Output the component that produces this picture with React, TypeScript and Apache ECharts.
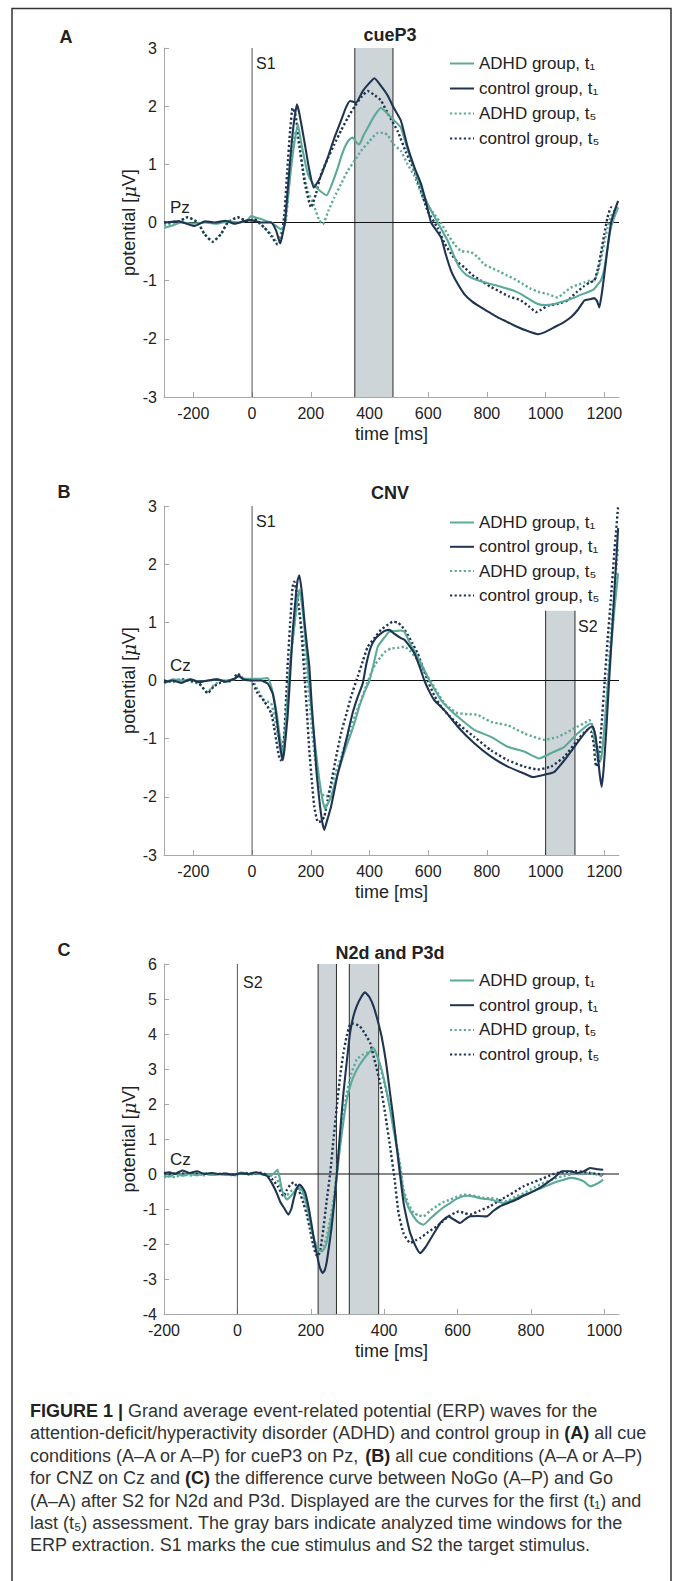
import React, { useEffect, useRef } from 'react';
import * as echarts from 'echarts';

const FONT = '"Liberation Sans", Arial, sans-serif';
const TEAL = '#5BAA97';
const NAVY = '#1F3452';

const SERIES_NAMES = ['ADHD group, t₁', 'control group, t₁', 'ADHD group, t₅', 'control group, t₅'];
const X_TICKS_AB = [-200, 0, 200, 400, 600, 800, 1000, 1200];
const X_TICKS_C = [-200, 0, 200, 400, 600, 800, 1000];

// ---------- Panel A (cueP3, Pz) ----------
const A_ADHD_T1 = [[-300,-0.09],[-270,-0.05],[-242,0],[-200,-0.02],[-160,0],[-120,-0.02],[-80,0.02],[-40,0],[-15,0.05],[-3,0.11],[15,0.08],[31,0.06],[50,0.02],[65,0],[82,-0.06],[100,-0.12],[110,-0.05],[121,0.37],[132,0.9],[145,1.4],[156,1.69],[168,1.35],[178,1.1],[190,0.83],[210,0.65],[230,0.55],[254,0.47],[275,0.7],[292,0.94],[305,1.15],[320,1.34],[333,1.43],[343,1.46],[355,1.38],[365,1.34],[380,1.5],[394,1.63],[415,1.82],[439,1.97],[460,1.88],[485,1.75],[507,1.63],[530,1.25],[553,0.92],[576,0.6],[600,0.3],[632,0],[666,-0.31],[690,-0.6],[706,-0.77],[730,-0.9],[757,-0.97],[785,-1.02],[814,-1.06],[845,-1.1],[871,-1.14],[895,-1.18],[916,-1.23],[945,-1.32],[973,-1.4],[1000,-1.42],[1030,-1.4],[1060,-1.36],[1098,-1.29],[1120,-1.24],[1143,-1.2],[1166,-1.14],[1180,-1.05],[1188,-1.0],[1200,-0.8],[1211,-0.43],[1222,-0.1],[1234,0.09],[1247,0.26]];
const A_CTRL_T1 = [[-300,0],[-250,0.02],[-196,-0.06],[-160,0.02],[-128,0],[-90,0.03],[-60,-0.02],[-30,0.02],[-3,0.04],[30,0],[65,0],[82,-0.14],[96,-0.36],[104,-0.2],[112,0],[122,0.6],[132,1.2],[142,1.7],[153,2.03],[162,1.85],[178,1.4],[195,0.9],[210,0.6],[230,0.75],[258,1.12],[280,1.45],[303,1.75],[320,1.98],[334,2.09],[354,2.06],[377,2.26],[400,2.4],[417,2.48],[439,2.35],[460,2.2],[485,1.95],[507,1.75],[530,1.3],[553,0.95],[576,0.66],[595,0.3],[610,0],[644,-0.26],[660,-0.55],[678,-0.83],[700,-1.05],[723,-1.23],[750,-1.36],[780,-1.46],[810,-1.55],[837,-1.63],[865,-1.7],[893,-1.77],[930,-1.85],[973,-1.92],[1000,-1.88],[1030,-1.8],[1060,-1.72],[1086,-1.63],[1110,-1.5],[1132,-1.34],[1150,-1.32],[1166,-1.3],[1175,-1.35],[1183,-1.46],[1192,-1.2],[1200,-0.89],[1212,-0.4],[1223,0],[1235,0.2],[1247,0.37]];
const A_ADHD_T5 = [[-300,-0.05],[-250,0.02],[-219,0.09],[-185,0],[-162,-0.2],[-134,-0.33],[-106,-0.2],[-83,0],[-49,0.09],[-15,0.03],[8,0.04],[42,-0.09],[65,-0.2],[80,-0.3],[92,-0.25],[105,-0.1],[116,0.05],[125,0.6],[135,1.1],[144,1.45],[150,1.57],[160,1.3],[172,0.95],[190,0.54],[210,0.3],[228,0.05],[241,-0.03],[260,0.2],[280,0.43],[303,0.66],[326,0.89],[350,1.07],[371,1.23],[400,1.4],[428,1.54],[450,1.54],[462,1.5],[485,1.33],[507,1.23],[530,1.0],[553,0.8],[587,0.37],[621,0.14],[645,-0.02],[666,-0.2],[690,-0.38],[712,-0.49],[746,-0.51],[770,-0.6],[791,-0.72],[815,-0.78],[837,-0.83],[865,-0.9],[893,-0.97],[920,-1.05],[950,-1.14],[980,-1.2],[1007,-1.23],[1041,-1.29],[1065,-1.2],[1086,-1.12],[1110,-1.07],[1132,-1.03],[1150,-1.0],[1166,-1.0],[1178,-0.85],[1188,-0.66],[1200,-0.35],[1211,-0.09],[1222,0.1],[1234,0.2],[1247,0.26]];
const A_CTRL_T5 = [[-300,0],[-250,0.02],[-219,0.09],[-185,0],[-162,-0.2],[-134,-0.33],[-106,-0.2],[-83,0],[-49,0.09],[-15,0.02],[8,0.06],[42,-0.09],[65,-0.23],[87,-0.38],[99,-0.3],[110,0.14],[120,0.9],[130,1.6],[138,1.97],[148,1.85],[160,1.4],[178,0.72],[201,0.26],[218,0.5],[235,0.83],[258,1.1],[280,1.34],[303,1.58],[326,1.8],[350,2.0],[371,2.15],[394,2.26],[415,2.2],[439,2.1],[465,1.85],[496,1.57],[525,1.2],[553,0.89],[575,0.55],[598,0.2],[632,-0.09],[655,-0.35],[678,-0.54],[700,-0.68],[723,-0.77],[750,-0.9],[780,-1.0],[810,-1.1],[837,-1.17],[875,-1.27],[916,-1.34],[945,-1.45],[967,-1.54],[985,-1.5],[1007,-1.43],[1040,-1.4],[1075,-1.34],[1105,-1.2],[1132,-1.09],[1150,-1.03],[1166,-1.0],[1178,-0.8],[1188,-0.54],[1200,-0.2],[1211,0.09],[1223,0.26],[1235,0.22],[1247,0.2]];

// ---------- Panel B (CNV, Cz) ----------
const B_ADHD_T1 = [[-300,-0.05],[-270,0.02],[-240,0],[-210,0.02],[-180,-0.02],[-150,0],[-120,0.02],[-90,0],[-60,0.03],[-45,0.08],[-30,0.03],[-3,0.03],[20,0.03],[53,0.04],[65,-0.1],[76,-0.34],[85,-0.6],[93,-0.91],[104,-1.25],[112,-1.0],[121,-0.34],[132,0.4],[144,0.93],[152,1.3],[161,1.56],[170,1.3],[178,0.93],[187,0.4],[195,-0.1],[206,-0.7],[218,-1.25],[229,-1.7],[240,-2.05],[248,-2.2],[258,-2.12],[269,-2.0],[285,-1.72],[303,-1.42],[320,-1.15],[337,-0.91],[352,-0.68],[365,-0.45],[383,-0.2],[400,0],[415,0.3],[428,0.58],[448,0.72],[468,0.84],[490,0.85],[507,0.86],[519,0.84],[540,0.62],[564,0.41],[585,0.2],[604,0],[625,-0.18],[644,-0.34],[670,-0.48],[700,-0.62],[757,-0.85],[814,-0.97],[871,-1.14],[927,-1.22],[978,-1.34],[1018,-1.25],[1064,-1.14],[1109,-0.91],[1154,-0.74],[1164,-0.85],[1172,-1.08],[1180,-1.25],[1189,-1.37],[1197,-1.0],[1206,-0.45],[1214,0.05],[1222,0.52],[1234,1.2],[1247,1.84]];
const B_CTRL_T1 = [[-300,-0.03],[-270,0],[-240,-0.04],[-210,0.02],[-180,-0.03],[-150,0],[-120,0.02],[-90,-0.02],[-60,0.03],[-45,0.08],[-30,0.02],[-3,0],[30,0],[53,-0.05],[70,-0.22],[80,-0.5],[87,-0.79],[96,-1.15],[104,-1.37],[110,-1.2],[121,-0.62],[130,0.1],[138,0.81],[148,1.4],[155,1.72],[161,1.81],[170,1.5],[178,1.04],[187,0.6],[195,0.24],[203,-0.4],[212,-1.02],[220,-1.6],[229,-2.05],[238,-2.4],[246,-2.57],[256,-2.4],[269,-2.17],[280,-1.9],[292,-1.6],[310,-1.25],[326,-0.91],[343,-0.55],[360,-0.28],[377,-0.05],[390,0.3],[405,0.58],[420,0.72],[439,0.81],[455,0.86],[468,0.87],[485,0.8],[507,0.73],[519,0.7],[535,0.6],[553,0.47],[570,0.25],[587,0],[605,-0.2],[621,-0.34],[655,-0.51],[700,-0.79],[757,-1.08],[814,-1.31],[871,-1.48],[927,-1.6],[956,-1.66],[996,-1.62],[1030,-1.57],[1064,-1.37],[1098,-1.14],[1132,-0.91],[1148,-0.82],[1160,-0.79],[1170,-0.95],[1177,-1.25],[1184,-1.6],[1191,-1.83],[1198,-1.5],[1206,-0.91],[1214,-0.2],[1222,0.47],[1234,1.5],[1247,2.62]];
const B_ADHD_T5 = [[-300,-0.05],[-270,0],[-240,0.02],[-210,-0.02],[-180,-0.06],[-151,-0.2],[-130,-0.08],[-100,0],[-70,-0.02],[-49,0.1],[-30,0.02],[-3,0.02],[8,-0.05],[19,-0.16],[42,-0.34],[65,-0.39],[75,-0.6],[87,-0.91],[101,-1.25],[108,-1.1],[116,-0.62],[127,0.1],[138,0.7],[147,1.1],[155,1.33],[163,1.1],[172,0.81],[183,0.3],[195,-0.34],[206,-0.95],[218,-1.48],[235,-1.94],[252,-2.0],[269,-1.83],[285,-1.58],[303,-1.31],[320,-1.05],[337,-0.79],[355,-0.55],[371,-0.34],[388,-0.1],[405,0.12],[420,0.28],[439,0.41],[455,0.5],[473,0.55],[495,0.56],[519,0.58],[540,0.5],[564,0.35],[587,0.15],[610,-0.02],[630,-0.2],[655,-0.39],[680,-0.5],[700,-0.56],[735,-0.58],[768,-0.59],[790,-0.65],[814,-0.71],[840,-0.74],[871,-0.77],[900,-0.84],[927,-0.91],[960,-0.97],[996,-1.02],[1041,-0.97],[1070,-0.9],[1098,-0.82],[1130,-0.74],[1149,-0.68],[1158,-0.75],[1166,-1.02],[1175,-1.3],[1183,-1.42],[1191,-1.2],[1200,-0.91],[1211,-0.1],[1222,0.81],[1234,1.5],[1247,2.3]];
const B_CTRL_T5 = [[-300,0],[-270,-0.02],[-240,0.02],[-210,0],[-180,-0.05],[-151,-0.22],[-130,-0.1],[-100,-0.02],[-70,0],[-49,0.12],[-30,0.03],[-3,0],[19,-0.22],[42,-0.36],[65,-0.56],[75,-0.8],[82,-1.02],[93,-1.34],[98,-1.37],[104,-1.2],[110,-0.91],[116,-0.3],[121,0.24],[130,1.0],[138,1.61],[144,1.7],[152,1.5],[161,1.21],[170,0.7],[178,0.12],[187,-0.55],[195,-1.2],[204,-1.75],[212,-2.17],[224,-2.43],[235,-2.42],[246,-2.34],[258,-2.05],[269,-1.77],[285,-1.35],[303,-0.91],[320,-0.6],[337,-0.28],[360,0.07],[377,0.33],[394,0.58],[415,0.72],[439,0.87],[460,0.95],[479,1.01],[495,1.0],[507,0.95],[524,0.84],[545,0.65],[564,0.47],[580,0.25],[598,0],[620,-0.25],[644,-0.45],[670,-0.6],[700,-0.74],[757,-0.97],[814,-1.2],[871,-1.37],[927,-1.48],[973,-1.53],[1018,-1.48],[1064,-1.31],[1109,-1.02],[1143,-0.85],[1155,-0.88],[1164,-1.1],[1172,-1.48],[1180,-1.4],[1190,-0.8],[1200,-0.1],[1211,0.7],[1222,1.38],[1234,2.2],[1247,2.99]];

// ---------- Panel C (N2d and P3d, Cz) ----------
const C_ADHD_T1 = [[-200,-0.05],[-185,-0.08],[-170,0.02],[-150,-0.05],[-130,0],[-110,-0.04],[-90,0.02],[-70,-0.03],[-50,0],[-30,-0.03],[-10,-0.02],[10,0.04],[30,0],[50,0.03],[70,-0.02],[90,-0.03],[98,0],[109,0.12],[115,-0.1],[121,-0.45],[128,-0.62],[135,-0.73],[144,-0.65],[153,-0.54],[162,-0.42],[171,-0.35],[180,-0.55],[194,-1.11],[203,-1.6],[212,-1.97],[221,-2.15],[230,-2.21],[237,-2.12],[243,-1.97],[252,-1.5],[262,-0.92],[271,-0.05],[280,0.79],[289,1.5],[298,2.12],[310,2.6],[321,2.89],[332,3.1],[343,3.27],[357,3.45],[371,3.6],[382,3.35],[393,2.98],[405,2.45],[416,1.84],[425,1.3],[434,0.79],[443,0.2],[453,-0.54],[466,-0.95],[480,-1.21],[493,-1.38],[507,-1.45],[525,-1.28],[543,-1.11],[562,-0.95],[580,-0.83],[596,-0.72],[612,-0.64],[628,-0.62],[643,-0.64],[665,-0.7],[689,-0.73],[707,-0.78],[725,-0.83],[748,-0.75],[770,-0.64],[793,-0.55],[816,-0.45],[838,-0.36],[861,-0.26],[884,-0.18],[907,-0.11],[930,-0.15],[945,-0.22],[961,-0.35],[980,-0.28],[997,-0.16]];
const C_CTRL_T1 = [[-200,0.02],[-185,0.05],[-170,0],[-150,0.1],[-130,0.03],[-110,0.08],[-90,0],[-70,0.03],[-50,0],[-30,0.01],[-10,-0.02],[10,0.02],[30,0],[50,0.05],[62,0.02],[80,-0.05],[94,-0.26],[107,-0.54],[117,-0.8],[126,-0.95],[139,-1.16],[147,-1.0],[153,-0.73],[162,-0.4],[169,-0.3],[177,-0.38],[185,-0.54],[194,-0.95],[203,-1.5],[210,-1.95],[216,-2.26],[224,-2.65],[232,-2.83],[238,-2.75],[243,-2.54],[250,-2.05],[257,-1.5],[264,-0.8],[271,0],[280,1.2],[289,2.31],[298,3.2],[307,4.03],[316,4.5],[325,4.79],[337,5.05],[348,5.19],[360,5.05],[371,4.79],[382,4.4],[393,3.93],[405,3.2],[416,2.31],[425,1.6],[434,0.79],[443,0],[453,-0.83],[462,-1.3],[471,-1.69],[485,-2.05],[498,-2.26],[512,-2.1],[525,-1.88],[540,-1.62],[553,-1.4],[565,-1.28],[575,-1.21],[590,-1.3],[607,-1.4],[620,-1.3],[634,-1.21],[655,-1.2],[680,-1.21],[698,-1.05],[716,-0.92],[740,-0.82],[761,-0.73],[780,-0.62],[798,-0.54],[820,-0.42],[843,-0.26],[864,-0.1],[884,0.08],[905,0.08],[925,0.03],[945,0.08],[961,0.17],[980,0.14],[997,0.12]];
const C_ADHD_T5 = [[-200,-0.1],[-185,-0.04],[-170,-0.1],[-150,0],[-130,-0.05],[-110,0.02],[-90,-0.04],[-70,0.02],[-50,-0.02],[-30,0],[-10,-0.05],[10,0.03],[30,-0.02],[50,0.02],[70,0],[90,-0.04],[105,-0.1],[115,-0.3],[126,-0.54],[135,-0.6],[145,-0.5],[153,-0.45],[171,-0.45],[185,-0.8],[194,-1.2],[205,-1.7],[216,-2.07],[225,-2.16],[235,-2.05],[243,-1.8],[252,-1.35],[262,-0.73],[271,0.1],[280,0.98],[289,1.7],[298,2.31],[310,2.85],[325,3.27],[340,3.4],[353,3.46],[362,3.5],[371,3.55],[380,3.4],[389,3.08],[400,2.6],[416,1.93],[425,1.45],[434,0.85],[443,0.3],[453,-0.45],[466,-0.85],[480,-1.11],[493,-1.18],[507,-1.21],[525,-1.05],[543,-0.92],[562,-0.8],[580,-0.73],[598,-0.65],[616,-0.59],[634,-0.6],[652,-0.64],[670,-0.68],[689,-0.69],[710,-0.72],[734,-0.78],[757,-0.65],[780,-0.55],[803,-0.42],[825,-0.3],[848,-0.2],[870,-0.11],[893,-0.05],[916,0],[940,0],[961,0.03],[980,-0.02],[997,-0.07]];
const C_CTRL_T5 = [[-200,0.03],[-180,0],[-160,0.04],[-140,0],[-120,0.03],[-100,-0.01],[-80,0.02],[-60,-0.01],[-40,0.01],[-20,-0.02],[0,0],[20,0.03],[40,0],[60,0.04],[80,-0.02],[95,-0.15],[110,-0.35],[126,-0.64],[135,-0.45],[145,-0.3],[153,-0.24],[165,-0.4],[180,-0.83],[190,-1.2],[198,-1.59],[206,-2.0],[214,-2.3],[220,-2.35],[227,-2.1],[234,-1.59],[243,-0.8],[253,0.03],[262,1.0],[271,1.93],[280,2.8],[289,3.46],[298,3.95],[307,4.27],[316,4.3],[334,4.22],[348,4.0],[362,3.74],[375,3.2],[389,2.6],[403,1.7],[416,0.79],[428,-0.1],[439,-1.11],[453,-1.7],[471,-1.97],[485,-1.9],[498,-1.83],[520,-1.66],[543,-1.5],[560,-1.35],[575,-1.21],[603,-1.07],[620,-1.12],[634,-1.16],[660,-1.05],[689,-0.92],[710,-0.78],[734,-0.64],[757,-0.5],[780,-0.35],[803,-0.25],[825,-0.16],[848,-0.06],[870,0.03],[900,0.06],[925,0.08],[961,0.03],[997,-0.02]];

// analysis windows [start ms, end ms, bottom, top]
const BANDS_A = [[350, 480, -3, 3]];
const BANDS_B = [[1000, 1100, -3, 1.2]];
const BANDS_C = [[220, 270, -4, 6], [305, 385, -4, 6]];

const CAPTION_LINES = [
  '{b|FIGURE 1 |} Grand average event-related potential (ERP) waves for the',
  'attention-deficit/hyperactivity disorder (ADHD) and control group in {b|(A)} all cue',
  'conditions (A–A or A–P) for cueP3 on Pz, {b|(B)} all cue conditions (A–A or A–P)',
  'for CNZ on Cz and {b|(C)} the difference curve between NoGo (A–P) and Go',
  '(A–A) after S2 for N2d and P3d. Displayed are the curves for the first (t₁) and',
  'last (t₅) assessment. The gray bars indicate analyzed time windows for the',
  'ERP extraction. S1 marks the cue stimulus and S2 the target stimulus.',
];

const PANELS = [
  { top: 48, height: 349, xMin: -300, xMax: 1250, yMin: -3, yMax: 3, ticks: X_TICKS_AB,
    data: [A_ADHD_T1, A_CTRL_T1, A_ADHD_T5, A_CTRL_T5], bands: BANDS_A, legendTop: 55, legendGap: 8 },
  { top: 506, height: 349, xMin: -300, xMax: 1250, yMin: -3, yMax: 3, ticks: X_TICKS_AB,
    data: [B_ADHD_T1, B_CTRL_T1, B_ADHD_T5, B_CTRL_T5], bands: BANDS_B, legendTop: 514, legendGap: 7.3 },
  { top: 964, height: 350, xMin: -200, xMax: 1040, yMin: -4, yMax: 6, ticks: X_TICKS_C,
    data: [C_ADHD_T1, C_CTRL_T1, C_ADHD_T5, C_CTRL_T5], bands: BANDS_C, legendTop: 972, legendGap: 7.7 },
];

const AXIS_GRAY = '#a8a8a8';

function buildOption() {
  const grid: any[] = [];
  const xAxis: any[] = [];
  const yAxis: any[] = [];
  const legend: any[] = [];
  const series: any[] = [];

  PANELS.forEach((p, i) => {
    grid.push({ left: 164, top: p.top, width: 455, height: p.height });
    xAxis.push({
      gridIndex: i, type: 'value', min: p.xMin, max: p.xMax,
      axisLine: { show: true, onZero: false, lineStyle: { color: AXIS_GRAY, width: 1 } },
      axisTick: { show: true, inside: true, length: 5, customValues: p.ticks, lineStyle: { color: AXIS_GRAY } },
      axisLabel: { customValues: p.ticks, fontSize: 16, color: '#222', margin: 8, fontFamily: FONT,
        formatter: (v: number) => String(v) },
      splitLine: { show: false },
      name: 'time [ms]', nameLocation: 'middle', nameGap: 28, nameMoveOverlap: false,
      nameTextStyle: { fontSize: 18, color: '#222', fontFamily: FONT },
    });
    yAxis.push({
      gridIndex: i, type: 'value', min: p.yMin, max: p.yMax, interval: 1,
      axisLine: { show: true, onZero: false, lineStyle: { color: AXIS_GRAY, width: 1 } },
      axisTick: { show: true, inside: true, length: 5, lineStyle: { color: AXIS_GRAY } },
      axisLabel: { fontSize: 16, color: '#222', margin: 7, fontFamily: FONT, formatter: (v: number) => String(v) },
      splitLine: { show: false },
      name: 'potential [{i|μ}V]', nameLocation: 'middle', nameGap: 26, nameRotate: 90, nameMoveOverlap: false,
      nameTextStyle: { fontSize: 18, color: '#222', fontFamily: FONT,
        rich: { i: { fontSize: 18, fontStyle: 'italic', fontFamily: '"DejaVu Serif", serif', color: '#222' } } },
    });
    legend.push({
      orient: 'vertical', left: 449, top: p.legendTop, padding: 0,
      itemWidth: 24, itemHeight: 14, itemGap: p.legendGap, itemTextGap: 6,
      selectedMode: false, data: SERIES_NAMES,
      itemStyle: { opacity: 0 },
      textStyle: { fontSize: 17, color: '#222', fontFamily: FONT, lineHeight: 14 },
    });
    // analysis windows
    series.push({
      type: 'custom', xAxisIndex: i, yAxisIndex: i, z: 1, silent: true,
      encode: { x: [0, 1], y: [2, 3] }, data: p.bands,
      renderItem: (params: any, api: any) => {
        const p0 = api.coord([api.value(0), api.value(3)]);
        const p1 = api.coord([api.value(1), api.value(2)]);
        return {
          type: 'group',
          children: [
            { type: 'rect', shape: { x: p0[0], y: p0[1], width: p1[0] - p0[0], height: p1[1] - p0[1] }, style: { fill: '#CDD5D8' } },
            { type: 'line', shape: { x1: p0[0], y1: p0[1], x2: p0[0], y2: p1[1] }, style: { stroke: '#2b2b2b', lineWidth: 1 } },
            { type: 'line', shape: { x1: p1[0], y1: p0[1], x2: p1[0], y2: p1[1] }, style: { stroke: '#2b2b2b', lineWidth: 1 } },
          ],
        };
      },
    });
    // stimulus onset line
    series.push({
      type: 'line', xAxisIndex: i, yAxisIndex: i, z: 2, silent: true, symbol: 'none',
      data: [[0, p.yMin], [0, p.yMax]], lineStyle: { color: '#555', width: 1 },
    });
    // zero line
    series.push({
      type: 'line', xAxisIndex: i, yAxisIndex: i, z: 2, silent: true, symbol: 'none',
      data: [[p.xMin, 0], [p.xMax, 0]], lineStyle: { color: '#111', width: 1 },
    });
    // curves: dotted first, solid on top
    const order = [2, 3, 0, 1];
    order.forEach((k) => {
      const isAdhd = k % 2 === 0;
      const dotted = k >= 2;
      const color = isAdhd ? TEAL : NAVY;
      series.push({
        type: 'line', name: SERIES_NAMES[k], xAxisIndex: i, yAxisIndex: i, z: 3,
        data: p.data[k], symbol: 'none', showSymbol: false, smooth: 0.15, silent: true,
        itemStyle: { color },
        lineStyle: { color, width: dotted ? 2.4 : 2.1, type: dotted ? [2.2, 2.4] : 'solid' },
      });
    });
  });

  const txt = (text: string, x: number, y: number, opts: any = {}) => ({
    type: 'text', x, y, silent: true,
    style: { text, fontFamily: FONT, fontSize: 16, fill: '#222', align: 'left', verticalAlign: 'middle', ...opts },
  });

  const graphics: any[] = [
    { type: 'rect', silent: true, shape: { x: 12, y: 8.5, width: 659, height: 1620 },
      style: { fill: 'none', stroke: '#333', lineWidth: 1.5 } },
    txt('A', 66, 37, { fontSize: 18, fontWeight: 'bold', align: 'center' }),
    txt('B', 64, 492, { fontSize: 18, fontWeight: 'bold', align: 'center' }),
    txt('C', 64, 950, { fontSize: 18, fontWeight: 'bold', align: 'center' }),
    txt('cueP3', 390, 35, { fontSize: 18, fontWeight: 'bold', align: 'center' }),
    txt('CNV', 390, 493, { fontSize: 18, fontWeight: 'bold', align: 'center' }),
    txt('N2d and P3d', 390, 953, { fontSize: 18, fontWeight: 'bold', align: 'center' }),
    txt('S1', 256, 63),
    txt('S1', 256, 521),
    txt('S2', 578, 626),
    txt('S2', 243, 982),
    txt('Pz', 170, 207, { fontSize: 17 }),
    txt('Cz', 170, 665, { fontSize: 17 }),
    txt('Cz', 170, 1159, { fontSize: 17 }),
  ];
  CAPTION_LINES.forEach((line, i) => {
    graphics.push({
      type: 'text', x: 30, y: 1411 + i * 22.4, silent: true,
      style: {
        text: line, fontFamily: FONT, fontSize: 18, fill: '#333', align: 'left', verticalAlign: 'middle',
        rich: { b: { fontFamily: FONT, fontSize: 18, fontWeight: 'bold', fill: '#222' } },
      },
    });
  });

  return {
    animation: false,
    backgroundColor: '#ffffff',
    textStyle: { fontFamily: FONT },
    grid, xAxis, yAxis, legend, series,
    graphic: { elements: graphics },
  };
}

export default function App() {
  const ref = useRef<HTMLDivElement>(null);
  useEffect(() => {
    if (!ref.current) return;
    const chart = echarts.init(ref.current, null, { renderer: 'svg' });
    chart.setOption(buildOption() as any);
    return () => chart.dispose();
  }, []);
  return (
    <div
      ref={ref}
      style={{ position: 'absolute', left: 0, top: 0, width: 673, height: 1581, background: '#fff' }}
    />
  );
}
